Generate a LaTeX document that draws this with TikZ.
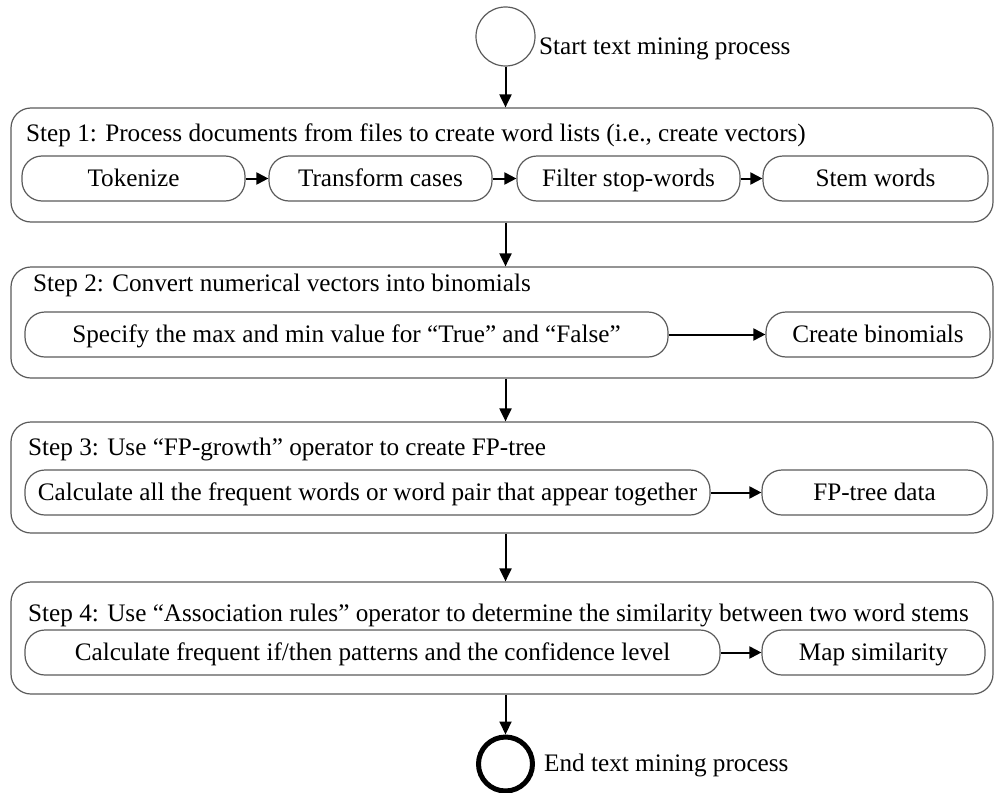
\documentclass[tikz,border=0pt]{standalone}
\usepackage{fontspec}
\setmainfont{Liberation Serif}
\usetikzlibrary{arrows.meta,calc}
\definecolor{edge}{HTML}{5A5A5A}
\tikzset{
  capline/.style={text height=16.7pt, text depth=0pt},
  outerbox/.style={draw=edge, line width=1.2pt, rounded corners=20pt, minimum height=#1, minimum width=982pt, inner sep=0pt},
  innerbox/.style={draw=edge, line width=1.2pt, rounded corners=20pt, minimum height=45pt, minimum width=#1, inner sep=0pt, capline},
  steptitle/.style={anchor=west, inner sep=0pt, capline},
  flow/.style={draw=black, line width=2pt, -{Triangle[length=13pt,width=12pt]}},
  sideflow/.style={draw=black, line width=2pt, -{Triangle[length=12pt,width=12pt]}},
  caption/.style={anchor=west, inner sep=0pt, capline},
}
\begin{document}
\begin{tikzpicture}[x=1pt, y=-1pt, font=\fontsize{25.2}{30}\selectfont]
\useasboundingbox (0,0) rectangle (995,792);

% start and end
\node[circle, draw=edge, line width=1.2pt, minimum size=59pt, inner sep=0pt] (start) at (505.5,36.5) {};
\node[caption] (startlbl) at (539,46.5) {Start text mining process};
\node[circle, draw=black, line width=5pt, minimum size=54pt, inner sep=0pt] (finish) at (505.5,764) {};
\node[caption] (endlbl) at (544,763) {End text mining process};

% step frames
\node[outerbox=114pt] (s1) at (502,165) {};
\node[outerbox=111pt] (s2) at (502,322.5) {};
\node[outerbox=111pt] (s3) at (502,477.5) {};
\node[outerbox=112pt] (s4) at (502,638) {};

% step titles
\node[steptitle] (t1) at (26,133) {Step 1: Process documents from files to create word lists (i.e., create vectors)};
\node[steptitle] (t2) at (33,283) {Step 2: Convert numerical vectors into binomials};
\node[steptitle] (t3) at (28,447) {Step 3: Use “FP-growth” operator to create FP-tree};
\node[steptitle] (t4) at (28,613) {Step 4: Use “Association rules” operator to determine the similarity between two word stems};

% step 1 operators
\node[innerbox=223pt] (tok) at (133.5,178.5) {Tokenize};
\node[innerbox=223pt] (tra) at (380.5,178.5) {Transform cases};
\node[innerbox=223pt] (fil) at (628.5,178.5) {Filter stop-words};
\node[innerbox=225pt] (stm) at (875.5,178.5) {Stem words};

% step 2 operators
\node[innerbox=643pt] (spec) at (346.5,334.5) {Specify the max and min value for “True” and “False”};
\node[innerbox=224pt] (bin) at (878,334.5) {Create binomials};

% step 3 operators
\node[innerbox=685pt] (freq) at (367.5,492.5) {Calculate all the frequent words or word pair that appear together};
\node[innerbox=225pt] (fpt) at (874.5,492.5) {FP-tree data};

% step 4 operators
\node[innerbox=695pt] (conf) at (372.5,652.5) {Calculate frequent if/then patterns and the confidence level};
\node[innerbox=223pt] (map) at (873.5,652.5) {Map similarity};

% main flow
\draw[flow] (start.south) -- (start |- s1.north);
\draw[flow] (start |- s1.south) -- (start |- s2.north);
\draw[flow] (start |- s2.south) -- (start |- s3.north);
\draw[flow] (start |- s3.south) -- (start |- s4.north);
\draw[flow] (start |- s4.south) -- (finish.north);

% flow inside the steps
\draw[sideflow] (tok.east) -- (tra.west);
\draw[sideflow] (tra.east) -- (fil.west);
\draw[sideflow] (fil.east) -- (stm.west);
\draw[sideflow] (spec.east) -- (bin.west);
\draw[sideflow] (freq.east) -- (fpt.west);
\draw[sideflow] (conf.east) -- (map.west);
\end{tikzpicture}
\end{document}
